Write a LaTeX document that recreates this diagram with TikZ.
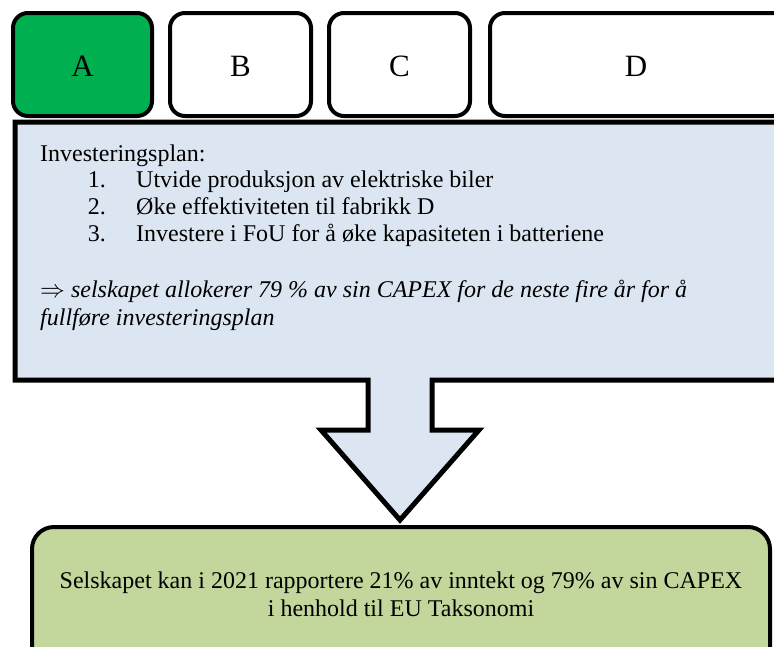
\documentclass[tikz,border=0pt]{standalone}
\usepackage{fontspec}
\setmainfont{Liberation Serif}
\definecolor{tabgreen}{HTML}{00B050}
\definecolor{calloutfill}{HTML}{DCE6F2}
\definecolor{resultfill}{HTML}{C3D69B}
\begin{document}
\begin{tikzpicture}[x=1pt,y=-1pt,
  tab/.style={draw=black, line width=4pt, rounded corners=15pt, fill=white},
  tablabel/.style={font=\fontsize{31}{36}\selectfont, inner sep=0pt},
  body/.style={font=\fontsize{24}{28}\selectfont, inner sep=0pt, anchor=base west},
  num/.style={font=\fontsize{24}{28}\selectfont, inner sep=0pt, anchor=base east}]
\useasboundingbox (0,0) rectangle (774,646);
\clip (0,0) rectangle (774,646);

% tabs along the top
\draw[tab, fill=tabgreen] (13,13) rectangle (152,116);
\draw[tab] (170,13) rectangle (311,116);
\draw[tab] (329,13) rectangle (470,116);
\draw[tab] (490,13) rectangle (790,116);
\node[tablabel] (tA) at (82.5,66) {A};
\node[tablabel] (tB) at (240.5,66) {B};
\node[tablabel] (tC) at (399.5,66) {C};
\node[tablabel] (tD) at (636,66) {D};

% callout panel with downward arrow
\draw[line width=5pt, fill=calloutfill, line join=miter]
  (15,122) -- (800,122) -- (800,380) -- (432,380) -- (432,430) -- (479,430)
  -- (400,520) -- (321,430) -- (368,430) -- (368,380) -- (15,380) -- cycle;

\node[body] (title) at (40,161) {Investeringsplan:};
\node[num] (n1) at (106,187) {1.};
\node[body] (i1) at (136,187) {Utvide produksjon av elektriske biler};
\node[num] (n2) at (106,214) {2.};
\node[body] (i2) at (136,214) {Øke effektiviteten til fabrikk D};
\node[num] (n3) at (106,241) {3.};
\node[body] (i3) at (136,241) {Investere i FoU for å øke kapasiteten i batteriene};
\node[body] (c1) at (40,297) {$\Rightarrow$ \itshape selskapet allokerer 79 \% av sin CAPEX for de neste fire år for å};
\node[body] (c2) at (40,325) {\itshape fullføre investeringsplan};

% result box
\draw[line width=4pt, rounded corners=22pt, fill=resultfill] (32,527) rectangle (770,680);
\node[font=\fontsize{24}{28}\selectfont, align=center, inner sep=0pt] (res) at (401,594)
  {Selskapet kan i 2021 rapportere 21\% av inntekt og 79\% av sin CAPEX\\i henhold til EU Taksonomi};
\end{tikzpicture}
\end{document}
